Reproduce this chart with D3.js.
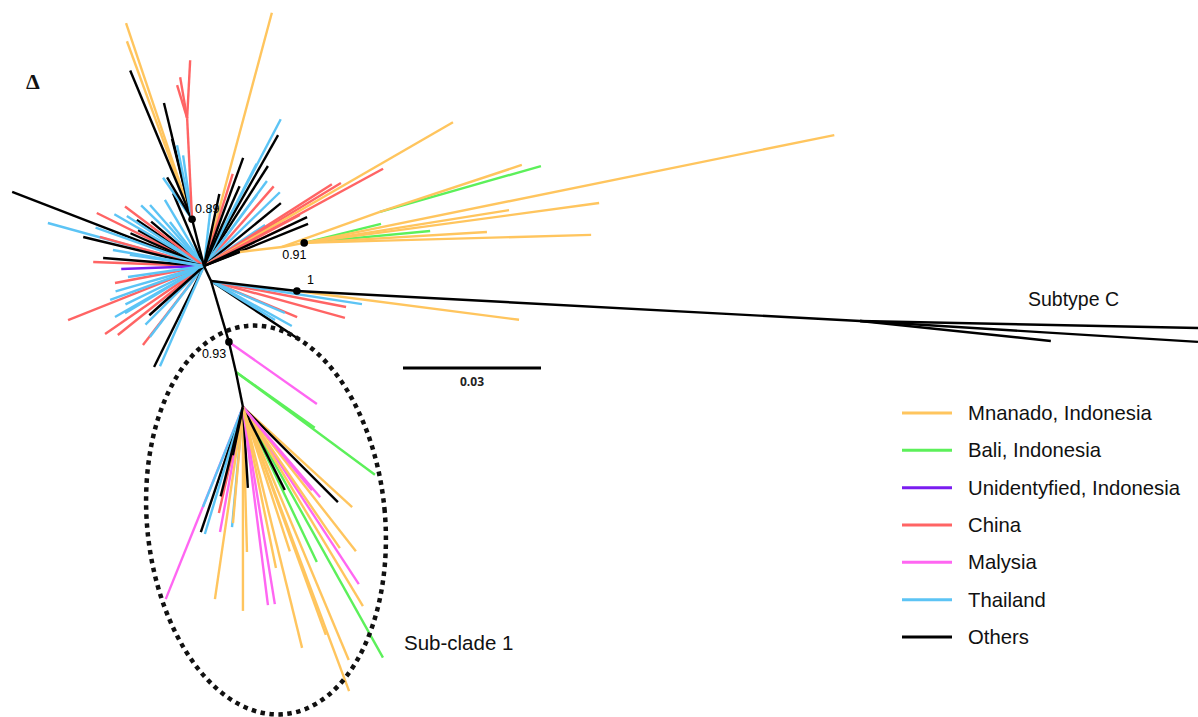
<!DOCTYPE html>
<html>
<head>
<meta charset="utf-8">
<script src="https://cdn.jsdelivr.net/npm/d3@7"></script>
<style>
  html, body { margin: 0; padding: 0; background: #fff; }
  svg { display: block; }
</style>
</head>
<body>
<svg id="chart" width="1198" height="717"></svg>
<script>
// ---- Sampling groups (legend order) ----
const groups = ['MN', 'BA', 'UN', 'CN', 'MY', 'TH', 'OT'];
const groupLabels = ['Mnanado, Indonesia', 'Bali, Indonesia', 'Unidentyfied, Indonesia',
                     'China', 'Malysia', 'Thailand', 'Others'];
const groupColors = ['#ffc55e', '#5cf05a', '#7a1cf0', '#ff6464', '#ff66f2', '#5cc4f5', '#000000'];

// ---- Interior nodes: [id, parent, angle (deg), branch length (subst./site), group] ----
const internalNodes = [
  ['n89',  'root', -104.3, 0.0105, 'OT'],
  ['nRed', 'n89',   -92.8, 0.0220, 'CN'],
  ['n91a', 'root',  -21.3, 0.0084, 'OT'],
  ['n91b', 'n91a',   -6.8, 0.0092, 'MN'],
  ['n91',  'n91b',  -10.3, 0.0049, 'MN'],
  ['nG',   'n91b',  -19.7, 0.0226, 'MN'],
  ['nL',   'root',   65.0, 0.0036, 'OT'],
  ['n1',   'nL',      6.6, 0.0188, 'OT'],
  ['nC',   'n1',     3.05, 0.1226, 'OT'],
  ['n93',  'nL',     73.6, 0.0138, 'OT'],
  ['nGr',  'n93',    76.9, 0.0067, 'OT'],
  ['nS',   'nGr',    78.7, 0.0078, 'OT']
];

// ---- Terminal branches: [angle (deg), branch length, group] ----
const tipsRoot = [
  // upper-right fan
  [-75.0, 0.0570, 'MN'], [-72.7, 0.0210, 'CN'], [-70.1, 0.0250, 'OT'], [-62.4, 0.0360, 'TH'],
  [-60.5, 0.0327, 'OT'], [-57.4, 0.0258, 'OT'], [-62.8, 0.0250, 'TH'], [-53.5, 0.0230, 'TH'],
  [-48.8, 0.0230, 'CN'], [-44.2, 0.0230, 'TH'], [-53.3, 0.0193, 'TH'], [-39.3, 0.0216, 'OT'],
  [-33.9, 0.0160, 'TH'], [-32.6, 0.0330, 'CN'], [-31.2, 0.0348, 'CN'], [-30.0, 0.0625, 'MN'],
  [-28.5, 0.0443, 'CN'], [-28.0, 0.0236, 'CN'], [-25.5, 0.0207, 'CN'], [-25.4, 0.0248, 'OT'],
  [-22.0, 0.0244, 'OT'], [-83.5, 0.0133, 'TH'], [-66.0, 0.0190, 'OT'], [-78.0, 0.0160, 'OT'],
  // upper-left fan
  [-158.9, 0.0447, 'OT'], [-164.6, 0.0352, 'TH'], [-153.7, 0.0260, 'CN'], [-164.4, 0.0235, 'CN'],
  [-145.5, 0.0177, 'OT'], [-151.4, 0.0163, 'OT'], [-131.5, 0.0177, 'TH'], [-120.6, 0.0167, 'TH'],
  [-113.0, 0.0172, 'OT'], [-127.7, 0.0121, 'TH'], [-140.0, 0.0150, 'OT'], [-136.0, 0.0190, 'TH'],
  [-147.0, 0.0200, 'TH'], [-156.0, 0.0175, 'OT'], [-160.5, 0.0250, 'TH'], [-150.0, 0.0225, 'TH'],
  [-143.0, 0.0215, 'CN'], [-166.5, 0.0270, 'OT'],
  // left
  [-177.9, 0.0241, 'CN'], [-175.5, 0.0220, 'OT'], [177.9, 0.0180, 'UN'], [-171.5, 0.0163, 'TH'],
  [-170.0, 0.0201, 'TH'], [169.2, 0.0197, 'CN'], [171.8, 0.0167, 'TH'], [128.7, 0.0014, 'UN'],
  // lower-left
  [158.3, 0.0318, 'CN'], [145.5, 0.0261, 'CN'], [141.3, 0.0240, 'CN'], [150.2, 0.0223, 'TH'],
  [160.1, 0.0217, 'TH'], [149.2, 0.0200, 'TH'], [154.0, 0.0190, 'TH'], [127.7, 0.0217, 'CN'],
  [127.3, 0.0194, 'TH'], [116.3, 0.0245, 'OT'], [113.7, 0.0238, 'TH'], [135.0, 0.0180, 'TH'],
  [138.0, 0.0160, 'OT'], [164.0, 0.0200, 'TH']
];
const tips89 = [
  [-108.6, 0.0450, 'MN'], [-110.1, 0.0412, 'MN'], [-112.6, 0.0350, 'OT'], [-103.6, 0.0260, 'OT'],
  [-104.0, 0.0180, 'OT'], [-101.5, 0.0164, 'TH'], [-125.0, 0.0110, 'TH'], [-120.8, 0.0106, 'OT'],
  [-98.0, 0.0140, 'TH']
];
const tipsRed = [[-106.9, 0.0075, 'CN'], [-99.7, 0.0090, 'CN'], [-87.0, 0.0126, 'CN']];
const tipsLowerRight = [
  [22.7, 0.0203, 'CN'], [29.1, 0.0201, 'TH'], [33.5, 0.0232, 'OT'], [15.4, 0.0302, 'CN'],
  [10.9, 0.0299, 'CN'], [8.7, 0.0332, 'TH'], [23.4, 0.0175, 'TH'], [31.4, 0.0163, 'TH']
];
const tips91 = [
  [-13.9, 0.0172, 'BA'], [-5.4, 0.0275, 'BA'], [-3.4, 0.0398, 'MN'], [-1.6, 0.0624, 'MN'],
  [-7.7, 0.0647, 'MN'], [-9.1, 0.0451, 'MN'], [-11.5, 0.1176, 'MN']
];
const tipsG = [[-15.9, 0.0364, 'BA'], [-18.3, 0.0325, 'MN']];
const tips1 = [[7.4, 0.0487, 'MN']];
const tipsSubtypeC = [[1.19, 0.0735, 'OT'], [3.55, 0.0736, 'OT'], [5.98, 0.0417, 'OT']];
const tips93 = [[35.2, 0.0234, 'MY']];
const tipsGr = [[36.5, 0.0376, 'BA'], [35.3, 0.0210, 'BA']];
const tipsSubclade = [
  [111.9, 0.0450, 'MY'], [108.6, 0.0287, 'OT'], [106.7, 0.0288, 'TH'], [100.4, 0.0276, 'MY'],
  [102.8, 0.0236, 'CN'], [111.8, 0.0234, 'TH'], [95.2, 0.0262, 'TH'], [94.9, 0.0253, 'MN'],
  [98.3, 0.0422, 'MN'], [90.0, 0.0443, 'MN'], [88.4, 0.0315, 'MN'], [86.5, 0.0176, 'OT'],
  [82.8, 0.0434, 'MY'], [80.8, 0.0434, 'MY'], [78.4, 0.0357, 'MN'], [76.2, 0.0539, 'MN'],
  [64.5, 0.0373, 'BA'], [70.0, 0.0527, 'MN'], [67.3, 0.0596, 'MN'], [69.5, 0.0659, 'MN'],
  [60.8, 0.0624, 'BA'], [56.8, 0.0460, 'MY'], [58.9, 0.0505, 'MN'], [55.5, 0.0372, 'MN'],
  [51.9, 0.0398, 'MN'], [42.5, 0.0322, 'MN'], [45.0, 0.0292, 'OT'], [63.2, 0.0202, 'OT'],
  [50.3, 0.0235, 'MY'], [49.4, 0.0258, 'MY'], [101.8, 0.0107, 'OT'], [72.0, 0.0330, 'MN'],
  [104.0, 0.0200, 'OT']
];
const tipSets = [
  ['root', tipsRoot], ['n89', tips89], ['nRed', tipsRed], ['nL', tipsLowerRight],
  ['n91', tips91], ['nG', tipsG], ['n1', tips1], ['nC', tipsSubtypeC],
  ['n93', tips93], ['nGr', tipsGr], ['nS', tipsSubclade]
];

// ---- Posterior support values ----
const supportNodes = ['n89', 'n91', 'n1', 'n93'];
const supportValues = ['0.89', '0.91', '1', '0.93'];

// ---- Scale bar ----
const scaleBarValue = 0.03;

// ================= drawing =================
const svg = d3.select('#chart');
const hubX = 204, hubY = 266, barPx = 138;
const x = d3.scaleLinear().domain([0, scaleBarValue]).range([hubX, hubX + barPx]);
const y = d3.scaleLinear().domain([0, scaleBarValue]).range([hubY, hubY + barPx]);
const color = d3.scaleOrdinal().domain(groups).range(groupColors);
const rad = a => a * Math.PI / 180;

// unrooted layout: each node = parent + length along its angle
const pos = { root: { x: 0, y: 0 } };
const internalSegs = [];
internalNodes.forEach(([id, parent, ang, len, g]) => {
  const p = pos[parent];
  const q = { x: p.x + len * Math.cos(rad(ang)), y: p.y + len * Math.sin(rad(ang)) };
  pos[id] = q;
  internalSegs.push({ from: p, to: q, group: g });
});
const tipSegs = [];
tipSets.forEach(([parent, list]) => {
  const p = pos[parent];
  list.forEach(([ang, len, g]) => {
    tipSegs.push({ from: p, to: { x: p.x + len * Math.cos(rad(ang)), y: p.y + len * Math.sin(rad(ang)) }, group: g });
  });
});

const gTree = svg.append('g');
function drawSegs(data, cls) {
  gTree.selectAll('line.' + cls).data(data).join('line')
    .attr('class', cls)
    .attr('x1', d => x(d.from.x)).attr('y1', d => y(d.from.y))
    .attr('x2', d => x(d.to.x)).attr('y2', d => y(d.to.y))
    .attr('stroke', d => color(d.group))
    .attr('stroke-width', 2.4)
    .attr('stroke-linecap', 'butt');
}
drawSegs(tipSegs, 'tip');
drawSegs(internalSegs, 'internal');

// support dots and labels
const supportOffsets = { n89: [3, -6], n91: [-22, 16], n1: [10, -7], n93: [-27, 16] };
supportNodes.forEach((id, i) => {
  const p = pos[id];
  gTree.append('circle').attr('cx', x(p.x)).attr('cy', y(p.y)).attr('r', 3.8).attr('fill', '#000');
  gTree.append('text')
    .attr('x', x(p.x) + supportOffsets[id][0]).attr('y', y(p.y) + supportOffsets[id][1])
    .attr('font-family', 'Liberation Sans, Arial, sans-serif').attr('font-size', 12.5)
    .attr('fill', '#000').text(supportValues[i]);
});

// dotted outline around sub-clade 1
svg.append('ellipse')
  .attr('cx', 266).attr('cy', 520).attr('rx', 119).attr('ry', 195)
  .attr('transform', 'rotate(-5.5 266 520)')
  .attr('fill', 'none').attr('stroke', '#111')
  .attr('stroke-width', 4.5).attr('stroke-dasharray', '4.5 4.5');

// clade labels
const labelFont = 'Liberation Sans, Arial, sans-serif';
svg.append('text').attr('x', 1028).attr('y', 306).attr('font-family', labelFont)
  .attr('font-size', 19.5).attr('fill', '#111').text('Subtype C');
svg.append('text').attr('x', 404).attr('y', 650).attr('font-family', labelFont)
  .attr('font-size', 20.5).attr('fill', '#111').text('Sub-clade 1');
svg.append('text').attr('x', 26).attr('y', 89).attr('font-family', 'Liberation Serif, serif')
  .attr('font-weight', 'bold').attr('font-size', 22).attr('fill', '#111').text('Δ');

// scale bar
const sbX0 = 403, sbY = 368;
svg.append('line')
  .attr('x1', sbX0).attr('x2', sbX0 + (x(scaleBarValue) - x(0)))
  .attr('y1', sbY).attr('y2', sbY)
  .attr('stroke', '#000').attr('stroke-width', 3.2);
svg.append('text')
  .attr('x', sbX0 + (x(scaleBarValue) - x(0)) / 2).attr('y', sbY + 18)
  .attr('text-anchor', 'middle').attr('font-family', 'Open Sans, sans-serif')
  .attr('font-weight', 'bold').attr('font-size', 12).attr('fill', '#222')
  .text(scaleBarValue.toString());

// legend
const ly = d3.scalePoint().domain(groups).range([413, 637]);
const legend = svg.append('g');
groups.forEach((g, i) => {
  legend.append('line').attr('x1', 902).attr('x2', 952)
    .attr('y1', ly(g)).attr('y2', ly(g))
    .attr('stroke', color(g)).attr('stroke-width', 3);
  legend.append('text').attr('x', 968).attr('y', ly(g)).attr('dy', '0.35em')
    .attr('font-family', labelFont).attr('font-size', 20.3).attr('fill', '#111')
    .text(groupLabels[i]);
});
</script>
</body>
</html>
